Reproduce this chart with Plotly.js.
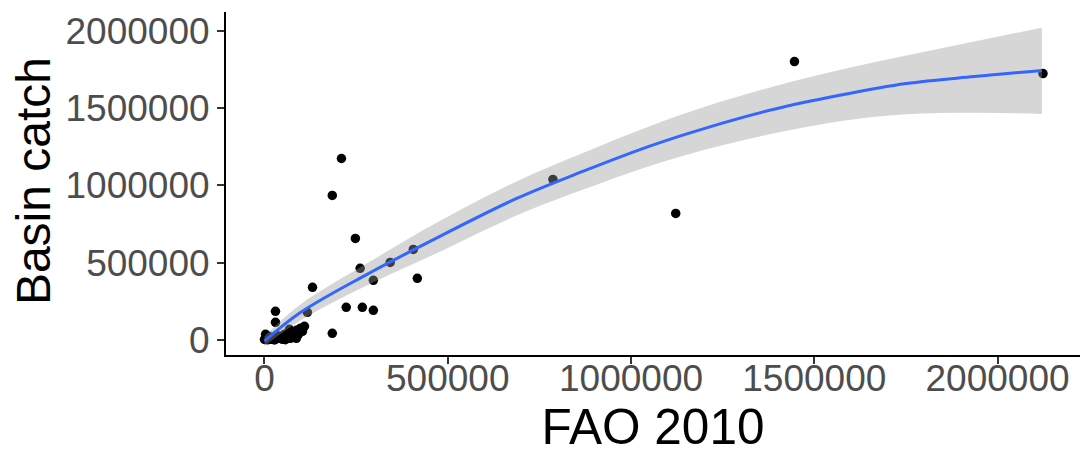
<!DOCTYPE html>
<html>
<head>
<meta charset="utf-8">
<script src="https://cdn.plot.ly/plotly-3.0.1.min.js"></script>
<style>html,body{margin:0;padding:0;background:#fff;}#chart{width:1083px;height:454px;}</style>
</head>
<body>
<div id="chart"></div>
<script>
// Observed basins: FAO 2010 (x) vs Basin catch (y)
var faoX = [2124000, 1446000, 1122000, 787000, 210000, 185000, 248000, 261000, 406000, 417000,
            343000, 297000, 297000, 267000, 223000, 185000, 131000, 117000, 30000, 30000, 3000,
            0, 2700, 8200, 10900, 16300, 21800, 27200, 32700, 38100, 43600, 49000, 54500, 60000,
            65400, 70800, 76300, 81700, 87100, 92600, 98000, 103500, 109000, 87000, 57000, 68000];
var basinY = [1722700, 1800000, 819000, 1039000, 1174000, 935500, 658000, 464500, 587000, 400000,
              503000, 387000, 193500, 213000, 213000, 45000, 342000, 180600, 187000, 116000, 39000,
              5000, 12900, 3000, 25800, 6500, 19400, 2000, 32300, 12900, 25800, 6500, 38700, 19400,
              32300, 12900, 51600, 32300, 64500, 38700, 77400, 58000, 90000, 13000, 4000, 71000];

// Smoothed fit (loess) with its confidence band
var fitX  = [0, 98000, 280000, 461000, 688000, 870000, 1051000, 1206000, 1387000, 1569000, 1751000, 1936000, 2121000];
var fitY  = [-6000, 179000, 426000, 650000, 916000, 1092000, 1254000, 1372000, 1490000, 1582000, 1658000, 1703000, 1742000];
var fitHi = [26000, 231000, 497000, 747000, 1026000, 1211000, 1383000, 1511000, 1638000, 1745000, 1839000, 1929000, 2019000];
var fitLo = [-38000, 127000, 355000, 553000, 806000, 973000, 1125000, 1233000, 1335000, 1415000, 1460000, 1470000, 1462000];

var xTicks = [0, 500000, 1000000, 1500000, 2000000];
var yTicks = [0, 500000, 1000000, 1500000, 2000000];

var traces = [
  {x: faoX, y: basinY, mode: 'markers', type: 'scatter',
   marker: {color: '#000000', size: 9.5}, hoverinfo: 'skip'},
  {x: fitX, y: fitLo, mode: 'lines', type: 'scatter',
   line: {width: 0, shape: 'spline', smoothing: 1, color: 'rgba(0,0,0,0)'}, hoverinfo: 'skip'},
  {x: fitX, y: fitHi, mode: 'lines', type: 'scatter', fill: 'tonexty',
   fillcolor: 'rgba(153,153,153,0.4)',
   line: {width: 0, shape: 'spline', smoothing: 1, color: 'rgba(0,0,0,0)'}, hoverinfo: 'skip'},
  {x: fitX, y: fitY, mode: 'lines', type: 'scatter',
   line: {color: '#3366FF', width: 3, shape: 'spline', smoothing: 1}, hoverinfo: 'skip'}
];

var tickFont = {family: 'Liberation Sans, Arial, sans-serif', size: 37, color: '#4D4D4D'};
var titleFont = {family: 'Liberation Sans, Arial, sans-serif', size: 49.5, color: '#000000'};

var layout = {
  width: 1083, height: 454,
  margin: {l: 226, r: 3, t: 12, b: 99, pad: 0},
  paper_bgcolor: '#ffffff', plot_bgcolor: '#ffffff',
  showlegend: false,
  xaxis: {
    range: [-105000, 2225000], tickvals: xTicks, ticktext: xTicks.map(String),
    showgrid: false, zeroline: false, showline: true, linecolor: '#000000', linewidth: 2,
    ticks: 'outside', ticklen: 7, tickwidth: 2, tickcolor: '#333333',
    tickfont: tickFont, ticklabelstandoff: -17,
    title: {text: 'FAO 2010', font: titleFont, standoff: 7}
  },
  yaxis: {
    range: [-95000, 2120000], tickvals: yTicks, ticktext: yTicks.map(String),
    showgrid: false, zeroline: false, showline: true, linecolor: '#000000', linewidth: 2,
    ticks: 'outside', ticklen: 7, tickwidth: 2, tickcolor: '#333333',
    tickfont: tickFont
  },
  annotations: [{
    text: 'Basin catch', textangle: -90, showarrow: false,
    xref: 'paper', yref: 'paper', x: -0.226, y: 0.507,
    xanchor: 'center', yanchor: 'middle',
    font: {family: 'Liberation Sans, Arial, sans-serif', size: 48, color: '#000000'}
  }]
};

Plotly.newPlot('chart', traces, layout, {staticPlot: true, displayModeBar: false});
</script>
</body>
</html>
